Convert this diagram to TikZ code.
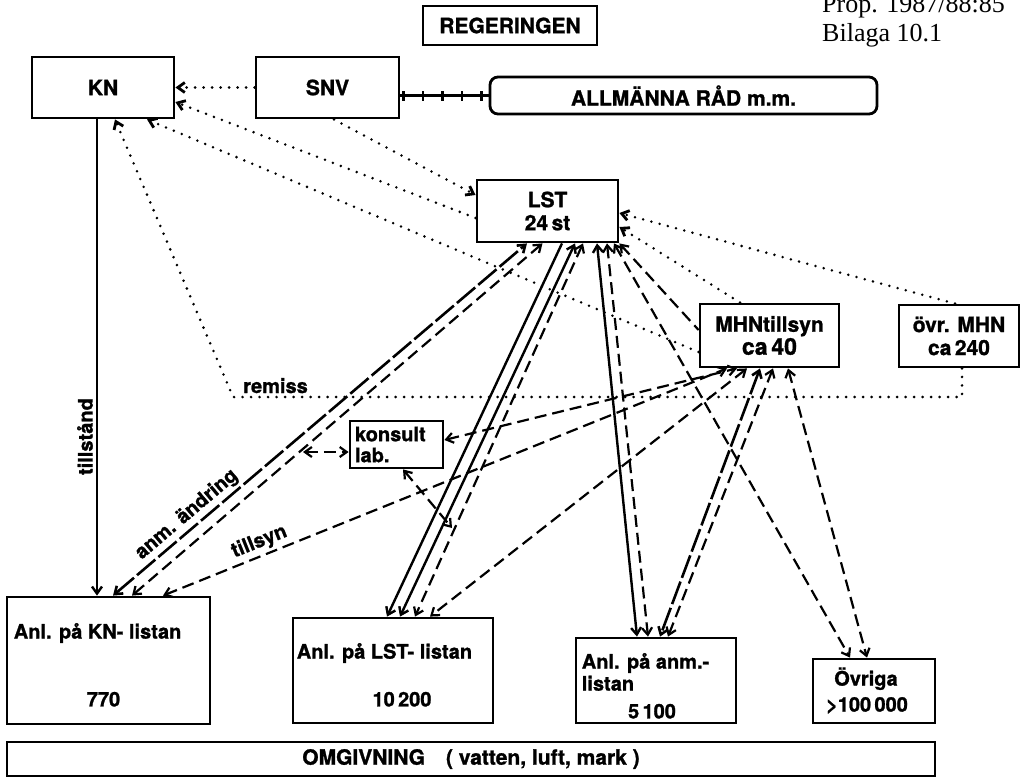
\documentclass[tikz,border=0pt]{standalone}
\usepackage{fontspec}
\usepackage{tikz}
\usetikzlibrary{positioning,arrows.meta,decorations.markings}
\newfontfamily\hvfont[BoldFeatures={FakeBold=1.2}]{TeX Gyre Heros}
\newfontfamily\tmsfont{Liberation Serif}
\tikzset{
  box/.style={draw, line width=2.8pt, inner sep=3pt, font=\hvfont\bfseries\fontsize{21}{23}\selectfont},
  txt/.style={inner sep=0pt, font=\hvfont\bfseries\fontsize{20}{22}\selectfont},
  conn/.style={line width=2.4pt},
  dotline/.style={line width=2.8pt, line cap=round, dash pattern=on 0pt off 8.5pt},
  dashline/.style={line width=2.2pt, dash pattern=on 12pt off 6pt},
  anmline/.style={line width=2.6pt, dash pattern=on 24pt off 4pt},
  plusline/.style={line width=2.4pt, postaction={decorate},
    decoration={markings, mark=between positions 3pt and 85pt step 19.5pt with {\draw[line width=2.4pt] (0pt,-5pt) -- (0pt,5pt);}}},
  >={Straight Barb[length=7pt,width=10pt]}
}
\begin{document}
\begin{tikzpicture}[x=1pt,y=-1pt]
\useasboundingbox (0,0) rectangle (1031,784);
\node[anchor=base west, inner sep=0pt, font=\tmsfont\fontsize{26}{30}\selectfont] (prop) at (822,13) {Prop. 1987/88:85};
\node[anchor=base west, inner sep=0pt, font=\tmsfont\fontsize{26}{30}\selectfont] (bilaga) at (822,42) {Bilaga 10.1};

\node[box, minimum width=174pt, minimum height=39pt] (reg) at (510,25.5) {REGERINGEN};
\node[box, minimum width=142pt, minimum height=61pt] (kn) at (103,87.5) {KN};
\node[box, minimum width=143pt, minimum height=61pt] (snv) at (327.5,87.5) {SNV};
\node[box, rounded corners=8pt, minimum width=387pt, minimum height=37pt] (allm) at (683.5,95.5) {ALLMÄNNA RÅD m.m.};
\node[box, align=center, minimum width=141pt, minimum height=62pt] (lst) at (547.5,211) {LST\\24\,st};
\node[box, align=center, minimum width=139pt, minimum height=63pt] (mhn) at (769.5,335.5) {MHNtillsyn\\{\fontsize{23}{23}\selectfont ca\,40}};
\node[box, align=center, minimum width=120pt, minimum height=62pt] (ovrmhn) at (959,336) {övr. MHN\\ca\,240};
\node[box, align=left, text width=83pt, minimum width=93pt, minimum height=47pt, inner sep=5pt,
  font=\hvfont\bfseries\fontsize{20}{21}\selectfont] (konsult) at (396.5,444.5) {konsult\\lab.};
\node[box, minimum width=203pt, minimum height=127pt] (anlkn) at (108.5,660.5) {};
\node[box, minimum width=200pt, minimum height=105pt] (anllst) at (393,670.5) {};
\node[box, minimum width=160pt, minimum height=85pt] (anlanm) at (656,680.5) {};
\node[box, minimum width=122pt, minimum height=64pt] (ovriga) at (874,691) {};
\node[box, minimum width=928pt, minimum height=34pt] (omg) at (471,759) {OMGIVNING\quad( vatten, luft, mark )};

\node[txt, anchor=base west] (anlkntxt) at ([xshift=8pt,yshift=-43pt]anlkn.north west) {Anl. på KN- listan};
\node[txt, anchor=base] (anlknnum) at ([xshift=-5pt,yshift=19pt]anlkn.south) {770};
\node[txt, anchor=base west] (anllsttxt) at ([xshift=5pt,yshift=-42pt]anllst.north west) {Anl. på LST- listan};
\node[txt, anchor=base] (anllstnum) at ([xshift=9pt,yshift=18pt]anllst.south) {10\,200};
\node[txt, anchor=base west] (anlanmtxt) at ([xshift=7pt,yshift=-32pt]anlanm.north west) {Anl. på anm.-};
\node[txt, anchor=base west] (anlanmtxtb) at ([xshift=7pt,yshift=-54pt]anlanm.north west) {listan};
\node[txt, anchor=base] (anlanmnum) at ([xshift=-4pt,yshift=6pt]anlanm.south) {5\,100};
\node[txt, anchor=base] (ovrigatxt) at ([xshift=-8pt,yshift=-28pt]ovriga.north) {Övriga};
\node[txt, anchor=base] (ovriganum) at ([xshift=-7pt,yshift=-54pt]ovriga.north) {>100\,000};

\coordinate (remiss) at (233,397);
\coordinate (kl) at (303,452);
\coordinate (kb) at (452,528);

\draw[plusline] ([yshift=-8pt]snv.east) -- (allm.west);

\draw[dotline,->] (snv.west) -- (kn.east);
\draw[dotline,->] ([yshift=-7pt]lst.west) -- ([yshift=-14.5pt]kn.east);
\draw[dotline,->] ([xshift=6.5pt]snv.south) -- ([yshift=16pt]lst.west);
\draw[dotline,->] ([yshift=-16.5pt]mhn.west) -- ([xshift=44pt]kn.south);
\draw[dotline,->] ([xshift=3pt]ovrmhn.south) |- (remiss) -- ([xshift=12pt]kn.south);
\node[txt, anchor=base west] (remisstxt) at ([xshift=10pt,yshift=4pt]remiss) {remiss};
\draw[dotline,->] ([xshift=-29.5pt]mhn.north) -- ([yshift=-16pt]lst.east);
\draw[dotline,->] ([xshift=-4pt]ovrmhn.north) -- ([yshift=-2pt]lst.east);

\draw[conn,->] ([xshift=-6pt]kn.south) -- node[txt, pos=.666, rotate=90, anchor=south, inner sep=3pt] {tillstånd} ([xshift=-11.5pt]anlkn.north);
\draw[anmline,<->] ([xshift=4.5pt]anlkn.north) -- node[txt, pos=.2, sloped, above, inner sep=3pt] {anm. ändring} ([xshift=-20.5pt]lst.south);
\draw[dashline,<->] ([xshift=-5pt]lst.south) -- ([xshift=23.5pt]anlkn.north);
\draw[dashline,<->] ([xshift=54.5pt]anlkn.north) -- node[txt, pos=.18, sloped, above, inner sep=3pt] {tillsyn} ([xshift=-42.5pt]mhn.south);
\draw[dashline,<->] ([yshift=4.5pt]konsult.east) -- ([xshift=-32.5pt]mhn.south);
\draw[dashline,<->] (kl) -- ([yshift=-7.5pt]konsult.west);
\draw[dashline,<->] ([xshift=6.5pt]konsult.south) -- (kb);

\draw[conn,->] ([xshift=14.5pt]lst.south) -- ([xshift=-6pt]anllst.north);
\draw[conn,<->] ([xshift=27.5pt]lst.south) -- ([xshift=7pt]anllst.north);
\draw[dashline,<->] ([xshift=35.5pt]lst.south) -- ([xshift=22pt]anllst.north);
\draw[conn,<->] ([xshift=49.5pt]lst.south) -- ([xshift=-19pt]anlanm.north);
\draw[dashline,<->] ([xshift=59.5pt]lst.south) -- ([xshift=-8pt]anlanm.north);
\draw[anmline,<->] ([xshift=-9.5pt]mhn.south) -- ([xshift=4pt]anlanm.north);
\draw[dashline,<->] ([xshift=3.5pt]mhn.south) -- ([xshift=12pt]anlanm.north);
\draw[dashline,<-] (lst.south east) -- ([yshift=5.5pt]mhn.west);
\draw[dashline,<->] ([xshift=66.5pt]lst.south) -- ([xshift=-24pt]ovriga.north);
\draw[dashline,<->] ([xshift=18.5pt]mhn.south) -- ([xshift=-7pt]ovriga.north);
\draw[dashline,<->] ([xshift=-22.5pt]mhn.south) -- ([xshift=37pt]anllst.north);
\end{tikzpicture}
\end{document}
